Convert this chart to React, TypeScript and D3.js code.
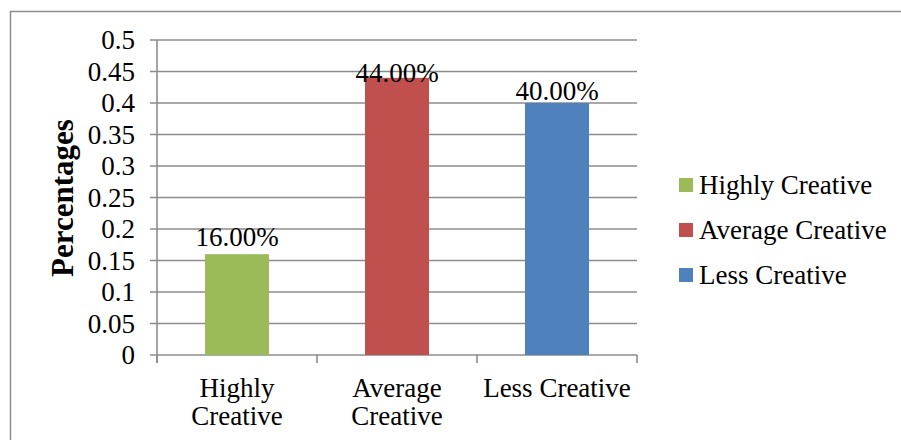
import { useEffect, useRef } from "react";
import * as d3 from "d3";

const categories = ["Highly Creative", "Average Creative", "Less Creative"];
const values = [0.16, 0.44, 0.4];
const valueLabels = ["16.00%", "44.00%", "40.00%"];
const colors = ["#9BBB59", "#C0504D", "#4F81BD"];
const yTicks = [0, 0.05, 0.1, 0.15, 0.2, 0.25, 0.3, 0.35, 0.4, 0.45, 0.5];
const yTickLabels = ["0", "0.05", "0.1", "0.15", "0.2", "0.25", "0.3", "0.35", "0.4", "0.45", "0.5"];

const FONT = "'Liberation Serif', 'Times New Roman', serif";
const GRID = "#8c8c8c";
const FS = 27;

export default function App() {
	const ref = useRef<SVGSVGElement>(null);

	useEffect(() => {
		const svg = d3.select(ref.current);
		svg.selectAll("*").remove();

		const width = 901;
		const height = 440;
		const plot = { left: 157, right: 637, top: 40, bottom: 355 };

		// outer chart frame (only top + left edges visible in the crop)
		svg.append("rect")
			.attr("x", 0).attr("y", 0)
			.attr("width", width).attr("height", height)
			.attr("fill", "#fff");
		svg.append("path")
			.attr("d", `M10.5,${height} V11.5 H${width}`)
			.attr("fill", "none")
			.attr("stroke", GRID)
			.attr("stroke-width", 1.5);

		const x = d3.scaleBand<string>()
			.domain(categories)
			.range([plot.left, plot.right])
			.paddingInner(0.6)
			.paddingOuter(0.3);

		const y = d3.scaleLinear().domain([0, 0.5]).range([plot.bottom, plot.top]);

		// gridlines + left ticks
		svg.append("g")
			.selectAll("line")
			.data(yTicks)
			.enter()
			.append("line")
			.attr("x1", plot.left - 7)
			.attr("x2", plot.right)
			.attr("y1", d => y(d))
			.attr("y2", d => y(d))
			.attr("stroke", GRID)
			.attr("stroke-width", 1.6);

		svg.append("g")
			.selectAll("text")
			.data(yTicks)
			.enter()
			.append("text")
			.attr("x", 135)
			.attr("y", d => y(d))
			.attr("dy", "0.34em")
			.attr("text-anchor", "end")
			.attr("font-family", FONT)
			.attr("font-size", FS)
			.attr("fill", "#000")
			.text((_d, i) => yTickLabels[i]);

		// y axis line
		svg.append("line")
			.attr("x1", plot.left).attr("x2", plot.left)
			.attr("y1", plot.top).attr("y2", plot.bottom + 8)
			.attr("stroke", GRID)
			.attr("stroke-width", 1.6);

		// category ticks below axis
		const step = x.step();
		const tickXs = d3.range(categories.length + 1).map(i => plot.left + i * step);
		svg.append("g")
			.selectAll("line")
			.data(tickXs)
			.enter()
			.append("line")
			.attr("x1", d => d).attr("x2", d => d)
			.attr("y1", plot.bottom).attr("y2", plot.bottom + 8)
			.attr("stroke", GRID)
			.attr("stroke-width", 1.6);

		// bars
		svg.append("g")
			.selectAll("rect")
			.data(values)
			.enter()
			.append("rect")
			.attr("x", (_d, i) => x(categories[i])!)
			.attr("y", d => y(d))
			.attr("width", x.bandwidth())
			.attr("height", d => plot.bottom - y(d))
			.attr("fill", (_d, i) => colors[i]);

		// value labels (Excel nudged the tallest one down onto the bar)
		const labelNudge = [-8, 4, -3];
		svg.append("g")
			.selectAll("text")
			.data(values)
			.enter()
			.append("text")
			.attr("x", (_d, i) => x(categories[i])! + x.bandwidth() / 2)
			.attr("y", (d, i) => y(d) + labelNudge[i])
			.attr("text-anchor", "middle")
			.attr("font-family", FONT)
			.attr("font-size", FS)
			.attr("fill", "#000")
			.text((_d, i) => valueLabels[i]);

		// category labels, wrapped when wider than the band step
		categories.forEach(cat => {
			const cx = x(cat)! + x.bandwidth() / 2;
			const t = svg.append("text")
				.attr("x", cx)
				.attr("y", 397)
				.attr("text-anchor", "middle")
				.attr("font-family", FONT)
				.attr("font-size", FS)
				.attr("fill", "#000")
				.text(cat);
			const len = (t.node() as SVGTextElement).getComputedTextLength();
			if (len > step - 4) {
				t.text(null);
				cat.split(" ").forEach((word, j) => {
					t.append("tspan")
						.attr("x", cx)
						.attr("y", 397 + j * 28)
						.text(word);
				});
			}
		});

		// y title
		svg.append("text")
			.attr("transform", "rotate(-90)")
			.attr("x", -198)
			.attr("y", 73)
			.attr("text-anchor", "middle")
			.attr("font-family", FONT)
			.attr("font-weight", "bold")
			.attr("font-size", 31)
			.attr("fill", "#000")
			.text("Percentages");

		// legend
		const legend = svg.append("g").attr("transform", "translate(679, 185)");
		categories.forEach((cat, i) => {
			const row = legend.append("g").attr("transform", `translate(0, ${i * 45})`);
			row.append("rect")
				.attr("x", 0).attr("y", -7)
				.attr("width", 14).attr("height", 14)
				.attr("fill", colors[i]);
			row.append("text")
				.attr("x", 20)
				.attr("y", 0)
				.attr("dy", "0.32em")
				.attr("font-family", FONT)
				.attr("font-size", FS)
				.attr("fill", "#000")
				.text(cat);
		});
	}, []);

	return (
		<svg
			ref={ref}
			width={901}
			height={440}
			style={{ position: "absolute", left: 0, top: 0, display: "block" }}
		/>
	);
}
